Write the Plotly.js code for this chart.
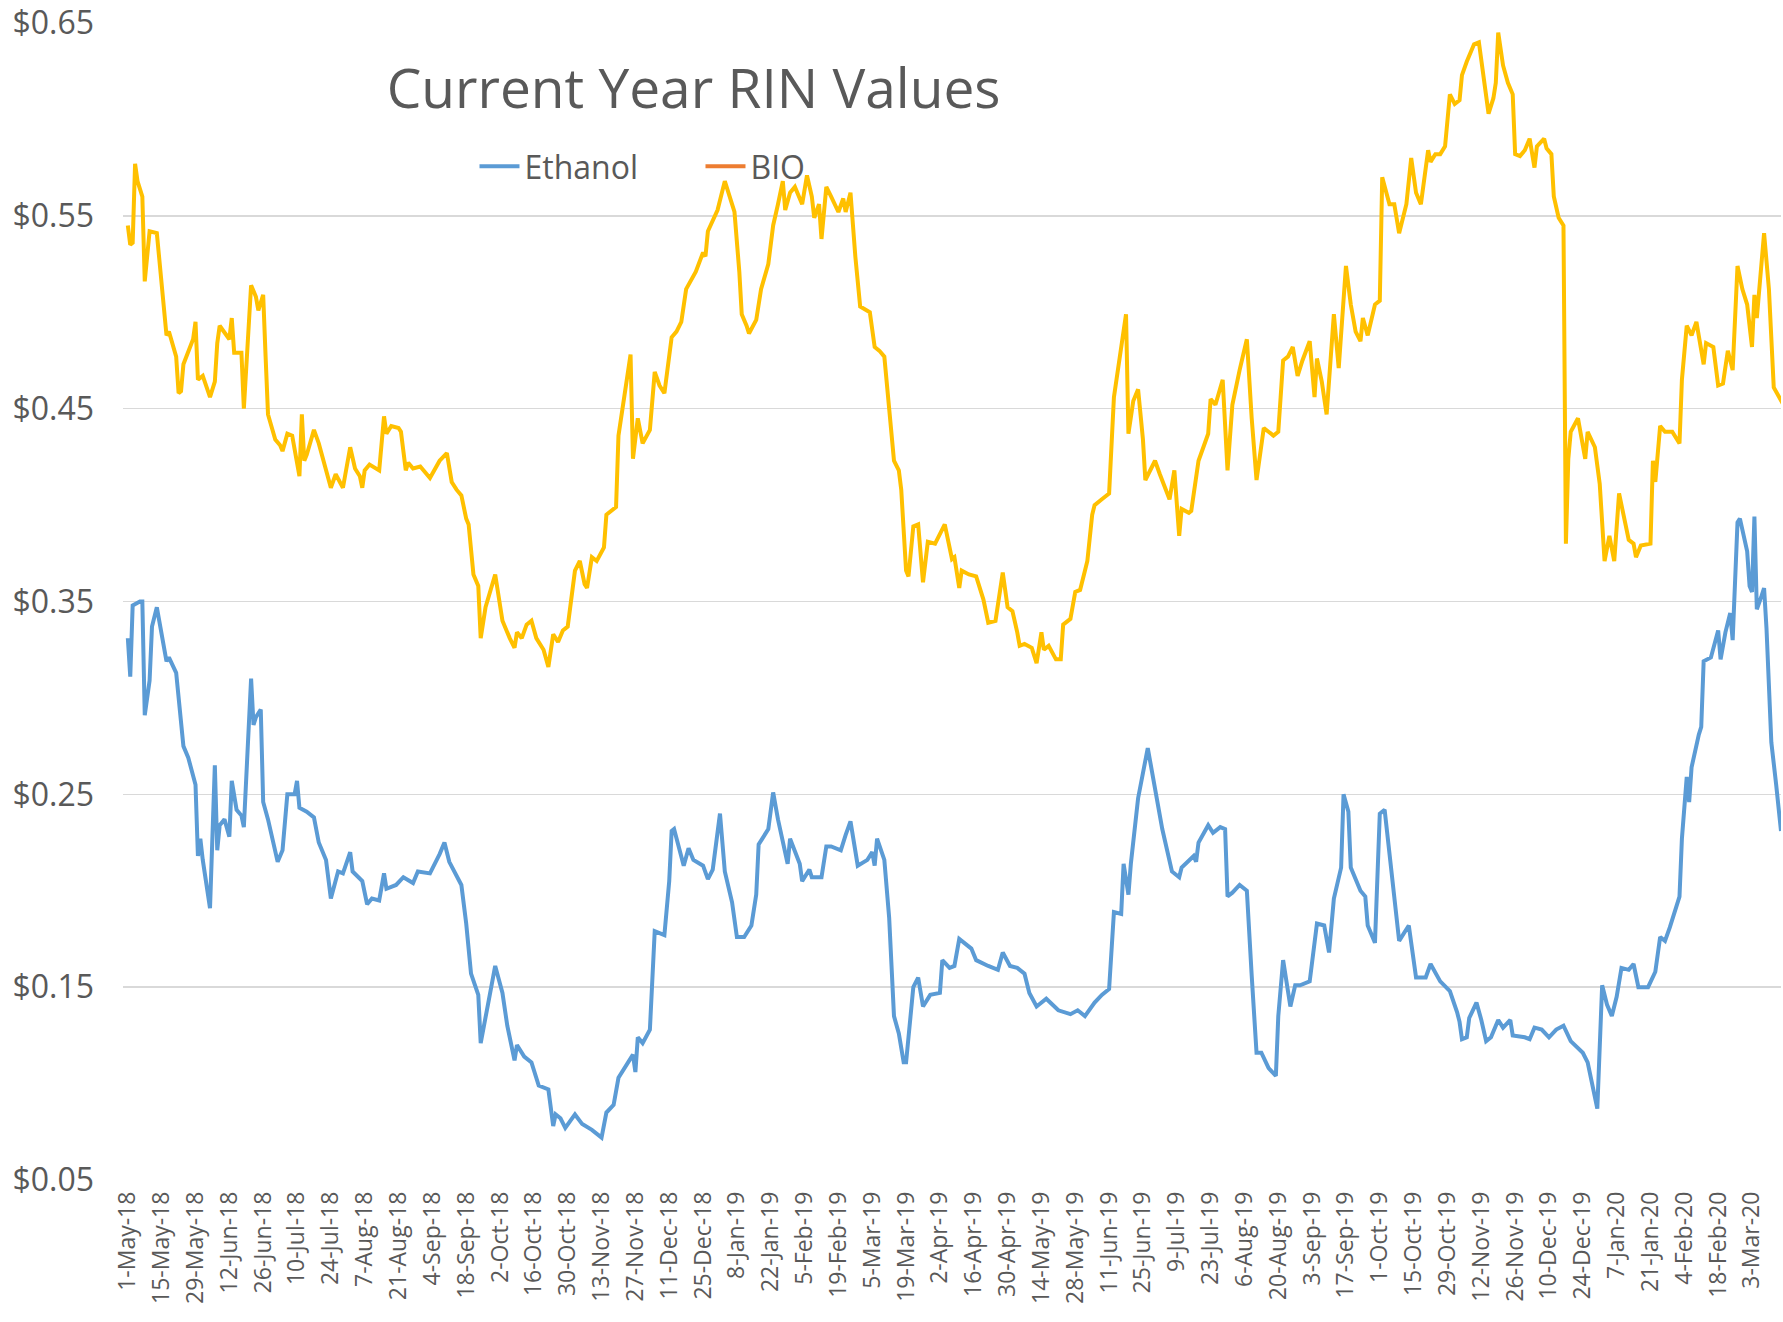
<!DOCTYPE html>
<html>
<head>
<meta charset="utf-8">
<script src="https://cdn.plot.ly/plotly-3.0.1.min.js"></script>
<style>html,body{margin:0;padding:0;background:#fff}#chart{width:1783px;height:1322px}</style>
</head>
<body>
<div id="chart"></div>
<script>
// Day offsets are counted from the first trading day shown, 1-May-18
const START_DATE = '2018-05-01';

const ethanolDays = [0,1,2,5,6,7,9,10,12,16,17,20,23,25,28,29,30,31,34,36,37,38,40,42,43,45,47,48,51,52,53,55,56,58,62,64,66,69,70,71,74,77,79,82,84,87,89,92,93,96,97,99,101,104,106,107,111,114,118,120,125,129,131,133,138,140,142,145,146,149,152,155,157,160,161,164,167,170,174,176,177,179,181,185,188,192,196,198,201,203,206,209,210,211,213,216,218,222,224,225,226,230,232,234,238,240,242,245,247,250,252,255,258,260,261,265,267,269,273,274,278,279,282,283,287,289,291,295,297,299,302,306,308,309,310,313,315,317,319,321,322,325,327,329,332,336,337,340,342,344,349,351,356,360,362,365,368,371,373,376,380,385,390,393,396,400,403,406,408,411,412,414,415,418,422,425,428,432,435,436,441,442,443,447,449,452,454,455,457,460,463,465,467,469,472,475,476,478,481,483,485,489,492,495,497,499,502,503,505,506,510,512,513,516,518,520,524,526,530,533,537,539,543,547,550,551,552,554,555,558,560,562,564,567,569,572,573,578,580,582,585,588,591,594,597,602,604,606,608,610,612,614,616,618,621,623,625,629,631,632,634,636,638,642,643,645,646,647,650,651,652,655,658,659,661,663,664,666,667,670,671,672,673,674,676,677,678,680,682,684];
const ethanolValues = [0.331,0.311,0.348,0.350,0.350,0.291,0.309,0.337,0.347,0.319,0.321,0.313,0.275,0.269,0.255,0.218,0.227,0.216,0.191,0.265,0.221,0.234,0.237,0.228,0.257,0.242,0.239,0.233,0.310,0.286,0.290,0.294,0.246,0.237,0.215,0.221,0.250,0.250,0.257,0.243,0.241,0.238,0.225,0.216,0.196,0.210,0.209,0.220,0.210,0.206,0.205,0.193,0.196,0.195,0.209,0.201,0.203,0.207,0.204,0.210,0.209,0.219,0.225,0.215,0.203,0.183,0.157,0.146,0.121,0.141,0.161,0.147,0.130,0.112,0.120,0.114,0.111,0.099,0.097,0.078,0.084,0.082,0.077,0.084,0.079,0.076,0.072,0.085,0.089,0.103,0.109,0.115,0.106,0.124,0.121,0.128,0.179,0.177,0.205,0.231,0.232,0.213,0.222,0.216,0.213,0.206,0.211,0.240,0.210,0.194,0.176,0.176,0.182,0.198,0.224,0.232,0.251,0.237,0.214,0.227,0.214,0.205,0.211,0.207,0.207,0.223,0.223,0.221,0.229,0.236,0.213,0.216,0.220,0.213,0.227,0.216,0.186,0.135,0.126,0.111,0.111,0.150,0.155,0.140,0.146,0.147,0.164,0.160,0.161,0.175,0.170,0.164,0.161,0.159,0.168,0.161,0.160,0.157,0.147,0.140,0.144,0.138,0.136,0.138,0.135,0.142,0.146,0.149,0.189,0.188,0.214,0.198,0.214,0.248,0.274,0.254,0.232,0.210,0.207,0.212,0.218,0.215,0.225,0.234,0.230,0.233,0.232,0.197,0.199,0.203,0.200,0.156,0.116,0.116,0.108,0.104,0.135,0.164,0.140,0.151,0.151,0.153,0.183,0.182,0.168,0.196,0.212,0.250,0.241,0.212,0.200,0.197,0.182,0.173,0.240,0.242,0.198,0.174,0.182,0.155,0.155,0.162,0.153,0.148,0.137,0.132,0.123,0.124,0.134,0.142,0.133,0.122,0.124,0.133,0.129,0.133,0.125,0.124,0.123,0.129,0.128,0.124,0.128,0.130,0.122,0.116,0.111,0.099,0.087,0.151,0.141,0.135,0.145,0.160,0.159,0.162,0.150,0.150,0.156,0.158,0.176,0.174,0.181,0.197,0.227,0.259,0.246,0.264,0.281,0.285,0.319,0.321,0.335,0.320,0.334,0.344,0.330,0.391,0.393,0.376,0.358,0.355,0.394,0.346,0.353,0.357,0.336,0.277,0.255,0.231];

const goldDays = [0,1,2,3,4,6,7,9,12,16,17,20,21,22,23,27,28,29,31,34,36,37,38,42,43,44,47,48,51,53,54,56,57,58,61,63,64,66,68,71,72,73,74,77,79,82,84,86,89,92,94,96,97,98,100,104,106,107,109,112,113,115,116,118,121,125,129,132,134,136,138,140,141,143,145,146,148,152,155,158,160,161,163,165,167,169,172,174,176,178,180,182,185,187,189,190,192,194,197,198,202,203,206,208,209,211,213,216,218,220,222,225,227,229,231,235,238,239,240,242,244,247,249,251,253,254,256,257,260,262,265,267,269,271,272,274,276,279,281,283,284,286,287,289,291,294,296,297,299,301,303,307,309,311,313,315,317,319,320,322,323,325,327,329,331,334,338,341,342,344,345,348,351,354,356,359,362,364,366,368,369,371,374,376,378,379,381,384,386,387,390,392,394,396,397,399,400,403,406,408,411,413,414,416,418,420,421,425,427,431,433,434,435,436,439,440,442,443,447,448,450,453,455,457,460,463,465,467,470,474,476,478,480,482,484,486,489,491,492,494,496,499,501,504,506,508,510,511,513,516,518,519,522,524,526,529,531,533,535,537,538,539,541,543,545,547,549,551,552,554,557,559,561,563,565,566,567,569,571,573,574,576,578,580,582,583,586,587,589,590,592,594,595,596,597,600,603,604,607,609,611,613,615,617,621,623,624,626,630,631,632,634,636,639,642,643,645,647,649,652,653,656,658,660,662,664,666,668,670,672,673,674,677,679,681,685];
const goldValues = [0.545,0.535,0.536,0.577,0.568,0.560,0.516,0.542,0.541,0.488,0.490,0.477,0.458,0.459,0.473,0.486,0.495,0.465,0.467,0.456,0.464,0.484,0.493,0.486,0.497,0.479,0.479,0.450,0.514,0.508,0.501,0.509,0.477,0.447,0.434,0.431,0.428,0.437,0.436,0.415,0.447,0.423,0.426,0.439,0.432,0.419,0.409,0.416,0.409,0.430,0.419,0.415,0.409,0.418,0.421,0.418,0.446,0.437,0.441,0.440,0.438,0.418,0.422,0.419,0.420,0.414,0.423,0.427,0.412,0.408,0.405,0.393,0.390,0.364,0.358,0.331,0.347,0.364,0.340,0.331,0.326,0.334,0.331,0.338,0.340,0.331,0.325,0.316,0.333,0.329,0.335,0.337,0.366,0.371,0.359,0.357,0.373,0.371,0.378,0.395,0.399,0.436,0.460,0.478,0.424,0.445,0.432,0.439,0.469,0.462,0.458,0.487,0.490,0.495,0.512,0.521,0.531,0.529,0.542,0.547,0.553,0.568,0.560,0.552,0.521,0.499,0.493,0.489,0.496,0.512,0.525,0.545,0.556,0.568,0.553,0.562,0.565,0.556,0.571,0.560,0.549,0.556,0.538,0.565,0.560,0.552,0.559,0.552,0.562,0.529,0.503,0.500,0.482,0.480,0.477,0.447,0.423,0.418,0.408,0.366,0.363,0.389,0.390,0.360,0.381,0.380,0.390,0.372,0.373,0.357,0.366,0.364,0.363,0.351,0.339,0.340,0.365,0.347,0.345,0.334,0.327,0.328,0.326,0.318,0.334,0.325,0.327,0.320,0.320,0.338,0.341,0.355,0.356,0.366,0.371,0.395,0.400,0.403,0.406,0.456,0.482,0.499,0.437,0.454,0.460,0.434,0.413,0.423,0.416,0.403,0.418,0.399,0.384,0.398,0.396,0.397,0.414,0.423,0.437,0.455,0.452,0.465,0.418,0.452,0.470,0.486,0.445,0.413,0.440,0.436,0.438,0.475,0.477,0.482,0.467,0.475,0.485,0.456,0.476,0.464,0.447,0.499,0.471,0.524,0.504,0.490,0.485,0.497,0.488,0.504,0.506,0.570,0.556,0.556,0.541,0.556,0.580,0.562,0.556,0.573,0.584,0.578,0.582,0.582,0.586,0.613,0.608,0.610,0.623,0.630,0.639,0.640,0.623,0.603,0.611,0.619,0.645,0.628,0.619,0.613,0.582,0.581,0.584,0.590,0.575,0.586,0.590,0.585,0.582,0.560,0.549,0.545,0.380,0.424,0.438,0.445,0.424,0.438,0.430,0.411,0.371,0.384,0.371,0.406,0.382,0.380,0.373,0.379,0.380,0.423,0.412,0.441,0.438,0.438,0.432,0.465,0.493,0.488,0.495,0.473,0.484,0.482,0.462,0.463,0.480,0.470,0.524,0.512,0.504,0.482,0.509,0.497,0.541,0.512,0.461,0.452];

const seriesNames = ['Ethanol', 'BIO'];
const chartTitle = 'Current Year RIN Values';

const DAY_MS = 86400000;
const startMs = Date.parse(START_DATE + 'T00:00:00Z');
const toDate = d => new Date(startMs + d * DAY_MS).toISOString().slice(0, 10);

const FONT = 'Open Sans, Noto Sans, sans-serif';
const GREY = '#595959';

const traces = [
  {x: ethanolDays.map(toDate), y: ethanolValues, name: seriesNames[0], type: 'scatter', mode: 'lines',
   line: {color: '#5B9BD5', width: 4}},
  {x: goldDays.map(toDate), y: goldValues, name: 'D4', type: 'scatter', mode: 'lines', showlegend: false,
   line: {color: '#FFC000', width: 4}},
  // BIO has no plotted values in the source chart; it only appears in the legend
  {x: [START_DATE], y: [null], name: seriesNames[1], type: 'scatter', mode: 'lines',
   line: {color: '#ED7D31', width: 4}}
];

const layout = {
  width: 1783, height: 1322,
  paper_bgcolor: '#ffffff', plot_bgcolor: '#ffffff',
  margin: {l: 123, r: 2, t: 23, b: 142},
  font: {family: FONT, color: GREY},
  title: {text: chartTitle, font: {size: 55, color: GREY, family: FONT},
          xref: 'container', yref: 'container', x: 0.389, xanchor: 'center', y: 0.933, yanchor: 'middle'},
  showlegend: true,
  legend: {orientation: 'h', x: 0.212, xanchor: 'left', y: 0.876, yanchor: 'middle',
           font: {size: 32, color: GREY, family: FONT}, bgcolor: 'rgba(0,0,0,0)',
           itemwidth: 40, entrywidth: 171, entrywidthmode: 'pixels', traceorder: 'normal'},
  xaxis: {type: 'date', range: ['2018-04-29', '2020-03-15'], tick0: START_DATE, dtick: 14 * DAY_MS,
          tickformat: '%-d-%b-%y', tickangle: -90, showgrid: false, zeroline: false, showline: false,
          ticks: '', ticklabelstandoff: 6, tickfont: {size: 23, color: GREY, family: FONT}},
  yaxis: {range: [0.05, 0.65], tick0: 0.05, dtick: 0.1, tickprefix: '$', tickformat: '.2f',
          showgrid: true, gridcolor: '#d9d9d9', gridwidth: 1.5, zeroline: false, showline: false,
          ticks: '', ticklabelstandoff: 28, tickfont: {size: 32, color: GREY, family: FONT}}
};

Plotly.newPlot('chart', traces, layout, {displayModeBar: false, staticPlot: true});
</script>
</body>
</html>
